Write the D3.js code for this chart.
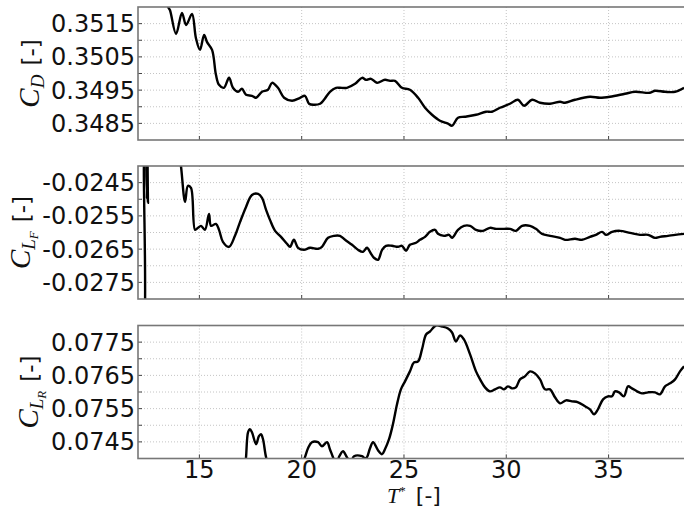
<!DOCTYPE html>
<html>
<head>
<meta charset="utf-8">
<script src="https://cdn.jsdelivr.net/npm/d3@7"></script>
<style>
  body { margin: 0; background: #fff; }
  svg { display: block; }
  text { font-family: "DejaVu Sans", sans-serif; }
  .math { font-family: "Liberation Serif", serif; font-style: italic; }
</style>
</head>
<body>
<div class="chartHolder"></div>
<script>
// time axis
var xTicks = [15, 20, 25, 30, 35];

// drag coefficient C_D
var cdT = [12.0, 13.0, 13.3, 13.47, 13.56, 13.86, 14.15, 14.35, 14.64, 14.83, 15.03, 15.23, 15.37, 15.62, 15.81, 15.96, 16.20, 16.45, 16.64, 16.89, 17.08, 17.28, 17.57, 17.77, 18.06, 18.35, 18.55, 18.84, 19.14, 19.53, 19.92, 20.16, 20.36, 20.60, 20.90, 21.09, 21.38, 21.68, 21.87, 22.21, 22.61, 22.95, 23.14, 23.39, 23.68, 24.07, 24.32, 24.56, 24.90, 25.29, 25.69, 26.03, 26.37, 26.76, 27.15, 27.35, 27.64, 27.98, 28.52, 29.01, 29.30, 29.69, 30.18, 30.57, 30.87, 31.26, 31.65, 32.14, 32.63, 32.87, 33.36, 34.09, 34.58, 35.07, 35.80, 36.29, 37.02, 37.27, 37.76, 38.25, 38.69];
var cdV = [0.3540, 0.3530, 0.3524, 0.35200, 0.35191, 0.35119, 0.35182, 0.35146, 0.35179, 0.35107, 0.35071, 0.35116, 0.35095, 0.35071, 0.34996, 0.34966, 0.34957, 0.34987, 0.34957, 0.34945, 0.34954, 0.34936, 0.34933, 0.34927, 0.34945, 0.34951, 0.34972, 0.34957, 0.34927, 0.34918, 0.34927, 0.34933, 0.34909, 0.34906, 0.34909, 0.34921, 0.34945, 0.34957, 0.34957, 0.34957, 0.34969, 0.34987, 0.34981, 0.34984, 0.34972, 0.34981, 0.34978, 0.34978, 0.34957, 0.34951, 0.34927, 0.34897, 0.34876, 0.34858, 0.34849, 0.34843, 0.34867, 0.34870, 0.34876, 0.34885, 0.34885, 0.34897, 0.34909, 0.34921, 0.34903, 0.34921, 0.34912, 0.34909, 0.34915, 0.34912, 0.34921, 0.34930, 0.34927, 0.34930, 0.34939, 0.34945, 0.34942, 0.34948, 0.34945, 0.34945, 0.34957];
var cdTicks = [0.3485, 0.3495, 0.3505, 0.3515];

// front lift coefficient C_LF
var clfT = [12.0, 12.30, 12.34, 12.42, 12.44, 12.46, 12.49, 12.52, 13.3, 14.0, 14.10, 14.30, 14.44, 14.59, 14.79, 14.93, 15.08, 15.27, 15.47, 15.57, 15.81, 15.96, 16.15, 16.45, 16.74, 16.99, 17.28, 17.57, 17.87, 18.06, 18.26, 18.45, 18.70, 18.99, 19.28, 19.43, 19.62, 19.82, 20.11, 20.41, 20.80, 20.99, 21.29, 21.58, 21.87, 22.12, 22.46, 22.75, 23.00, 23.19, 23.39, 23.53, 23.73, 23.93, 24.12, 24.41, 24.71, 24.90, 25.10, 25.29, 25.59, 25.78, 26.03, 26.27, 26.52, 26.66, 26.96, 27.20, 27.35, 27.64, 27.93, 28.23, 28.52, 28.86, 29.20, 29.50, 29.89, 30.18, 30.47, 30.77, 31.16, 31.45, 31.75, 32.14, 32.63, 32.87, 33.36, 33.70, 34.09, 34.38, 34.68, 34.87, 35.17, 35.56, 36.05, 36.54, 36.93, 37.27, 37.51, 37.90, 38.25, 38.69];
var clfV = [-0.0300, -0.0290, -0.0235, -0.0236, -0.02496, -0.0236, -0.02511, -0.0235, -0.0230, -0.0236, -0.02400, -0.02508, -0.02460, -0.02466, -0.02592, -0.02586, -0.02580, -0.02592, -0.02544, -0.02580, -0.02574, -0.02592, -0.02628, -0.02643, -0.02610, -0.02568, -0.02523, -0.02487, -0.02484, -0.02496, -0.02532, -0.02562, -0.02595, -0.02613, -0.02634, -0.02643, -0.02622, -0.02646, -0.02652, -0.02646, -0.02649, -0.02643, -0.02616, -0.02610, -0.02610, -0.02622, -0.02637, -0.02652, -0.02658, -0.02646, -0.02664, -0.02676, -0.02682, -0.02652, -0.02640, -0.02640, -0.02643, -0.02640, -0.02655, -0.02637, -0.02631, -0.02622, -0.02613, -0.02598, -0.02592, -0.02604, -0.02610, -0.02607, -0.02616, -0.02592, -0.02580, -0.02580, -0.02592, -0.02595, -0.02586, -0.02589, -0.02589, -0.02589, -0.02595, -0.02580, -0.02580, -0.02589, -0.02604, -0.02610, -0.02616, -0.02622, -0.02619, -0.02622, -0.02613, -0.02607, -0.02598, -0.02607, -0.02598, -0.02595, -0.02601, -0.02607, -0.02607, -0.02616, -0.02613, -0.02610, -0.02607, -0.02604];
var clfTicks = [-0.0275, -0.0265, -0.0255, -0.0245];

// rear lift coefficient C_LR
var clrT = [12.0, 16.5, 17.22, 17.28, 17.38, 17.47, 17.57, 17.77, 17.91, 18.01, 18.11, 18.26, 18.5, 19.9, 20.16, 20.31, 20.50, 20.80, 20.99, 21.24, 21.38, 21.53, 21.7, 21.82, 22.02, 22.21, 22.4, 22.56, 22.95, 23.09, 23.19, 23.34, 23.49, 23.73, 23.93, 24.07, 24.27, 24.46, 24.66, 24.85, 25.05, 25.29, 25.49, 25.69, 25.88, 26.08, 26.27, 26.56, 26.86, 27.15, 27.35, 27.54, 27.74, 27.93, 28.23, 28.52, 28.72, 28.96, 29.20, 29.45, 29.69, 29.89, 30.08, 30.28, 30.47, 30.67, 30.91, 31.16, 31.40, 31.65, 31.89, 32.14, 32.38, 32.63, 32.92, 33.21, 33.51, 33.85, 34.09, 34.29, 34.48, 34.73, 34.97, 35.17, 35.31, 35.51, 35.75, 35.95, 36.14, 36.39, 36.63, 36.93, 37.27, 37.51, 37.76, 38.00, 38.25, 38.49, 38.69];
var clrV = [0.0728, 0.0733, 0.0737, 0.07404, 0.07479, 0.07488, 0.07479, 0.07443, 0.07467, 0.07473, 0.07458, 0.07404, 0.0736, 0.0737, 0.07404, 0.07431, 0.07449, 0.07449, 0.07437, 0.07449, 0.07428, 0.07404, 0.0738, 0.07404, 0.07422, 0.07404, 0.0739, 0.07407, 0.07407, 0.07401, 0.07404, 0.07431, 0.07449, 0.07425, 0.07413, 0.07428, 0.07458, 0.07503, 0.07563, 0.07608, 0.07632, 0.07662, 0.07689, 0.07692, 0.07728, 0.07773, 0.07782, 0.07800, 0.07797, 0.07791, 0.07779, 0.07752, 0.07770, 0.07758, 0.07713, 0.07662, 0.07638, 0.07614, 0.07602, 0.07608, 0.07614, 0.07608, 0.07617, 0.07611, 0.07614, 0.07638, 0.07647, 0.07662, 0.07656, 0.07638, 0.07608, 0.07608, 0.07584, 0.07566, 0.07575, 0.07572, 0.07569, 0.07557, 0.07548, 0.07533, 0.07548, 0.07578, 0.07587, 0.07587, 0.07602, 0.07599, 0.07587, 0.07617, 0.07611, 0.07602, 0.07596, 0.07599, 0.07599, 0.07593, 0.07617, 0.07626, 0.07638, 0.07662, 0.07677];
var clrTicks = [0.0745, 0.0755, 0.0765, 0.0775];

var svgW = 684, svgH = 512;
var left = 138, right = 684, panelH = 133;
var panelTops = [7, 166, 325.5];

var panels = [
  { t: cdT, v: cdV, domain: [0.3480, 0.3520], ticks: cdTicks, sub: ["D"], labelX: 39 },
  { t: clfT, v: clfV, domain: [-0.0280, -0.0240], ticks: clfTicks, sub: ["L", "F"], labelX: 30 },
  { t: clrT, v: clrV, domain: [0.0740, 0.0780], ticks: clrTicks, sub: ["L", "R"], labelX: 38 }
];

var svg = d3.select(".chartHolder").append("svg").attr("width", svgW).attr("height", svgH);

var xScale = d3.scaleLinear().domain([12, 12 + (right - left) / 20.46]).range([left, right]);

panels.forEach(function (p, k) {
  var top = panelTops[k];
  var yScale = d3.scaleLinear().domain(p.domain).range([top + panelH, top]);
  var g = svg.append("g").attr("class", "panel");

  svg.append("clipPath").attr("id", "clip" + k).append("rect")
    .attr("x", left).attr("y", top).attr("width", right - left).attr("height", panelH);

  // grid every 0.0005
  var grid = d3.range(p.domain[0] + 0.0005, p.domain[1] - 0.0001, 0.0005);
  g.selectAll(".hgrid").data(grid).enter().append("line")
    .attr("x1", left).attr("x2", right)
    .attr("y1", function (d) { return yScale(d); }).attr("y2", function (d) { return yScale(d); })
    .attr("stroke", "#c4c4c4").attr("stroke-width", 1).attr("stroke-dasharray", "1,2");
  g.selectAll(".vgrid").data(xTicks).enter().append("line")
    .attr("x1", function (d) { return xScale(d); }).attr("x2", function (d) { return xScale(d); })
    .attr("y1", top).attr("y2", top + panelH)
    .attr("stroke", "#c4c4c4").attr("stroke-width", 1).attr("stroke-dasharray", "1,2");

  // inward ticks
  g.selectAll(".ytick").data(grid).enter().append("line")
    .attr("x1", left).attr("x2", left + 4)
    .attr("y1", function (d) { return yScale(d); }).attr("y2", function (d) { return yScale(d); })
    .attr("stroke", "#444").attr("stroke-width", 1);
  g.selectAll(".xtick").data(xTicks).enter().append("line")
    .attr("x1", function (d) { return xScale(d); }).attr("x2", function (d) { return xScale(d); })
    .attr("y1", top + panelH).attr("y2", top + panelH - 4)
    .attr("stroke", "#444").attr("stroke-width", 1);

  var line = d3.line()
    .x(function (d, i) { return xScale(p.t[i]); })
    .y(function (d) { return yScale(d); })
    .curve(d3.curveCatmullRom.alpha(0.5));
  g.append("path").datum(p.v)
    .attr("clip-path", "url(#clip" + k + ")")
    .attr("d", line)
    .attr("fill", "none").attr("stroke", "#000").attr("stroke-width", 2.4)
    .attr("stroke-linejoin", "round");

  // frame
  g.append("rect").attr("x", left).attr("y", top).attr("width", right - left + 2).attr("height", panelH)
    .attr("fill", "none").attr("stroke", "#777").attr("stroke-width", 1.6);

  // y tick labels
  g.selectAll(".ylab").data(p.ticks).enter().append("text")
    .attr("x", left - 3).attr("y", function (d) { return yScale(d) + 8.5; })
    .attr("text-anchor", "end")
    .attr("font-size", "24px").attr("fill", "#111")
    .text(function (d) { return d.toFixed(4); });

  // y axis label, rotated
  var lab = svg.append("text")
    .attr("transform", "translate(" + p.labelX + "," + (top + panelH / 2) + ") rotate(-90)")
    .attr("text-anchor", "middle").attr("fill", "#111");
  lab.append("tspan").attr("class", "math").attr("font-size", "29px").text("C");
  var shift = 0;
  p.sub.forEach(function (s, j) {
    var dy = j === 0 ? 5 : 3;
    shift += dy;
    lab.append("tspan").attr("class", "math")
      .attr("font-size", (j === 0 ? 19 : 13) + "px").attr("dy", dy).text(s);
  });
  lab.append("tspan").attr("font-size", "23px")
    .attr("dy", -shift).attr("dx", 9).text("[-]");

  // x tick labels on last panel
  if (k === panels.length - 1) {
    g.selectAll(".xlab").data(xTicks).enter().append("text")
      .attr("x", function (d) { return xScale(d); }).attr("y", top + panelH + 19)
      .attr("text-anchor", "middle")
      .attr("font-size", "24px").attr("fill", "#111")
      .text(function (d) { return d; });
  }
});

var xl = svg.append("text").attr("x", 414).attr("y", 503).attr("text-anchor", "middle").attr("fill", "#111");
xl.append("tspan").attr("class", "math").attr("font-size", "22px").text("T");
xl.append("tspan").attr("font-family", "Liberation Serif").attr("font-size", "13px").attr("dy", -8).text("*");
xl.append("tspan").attr("font-size", "22px").attr("dy", 8).attr("dx", 10).text("[-]");
</script>
</body>
</html>
